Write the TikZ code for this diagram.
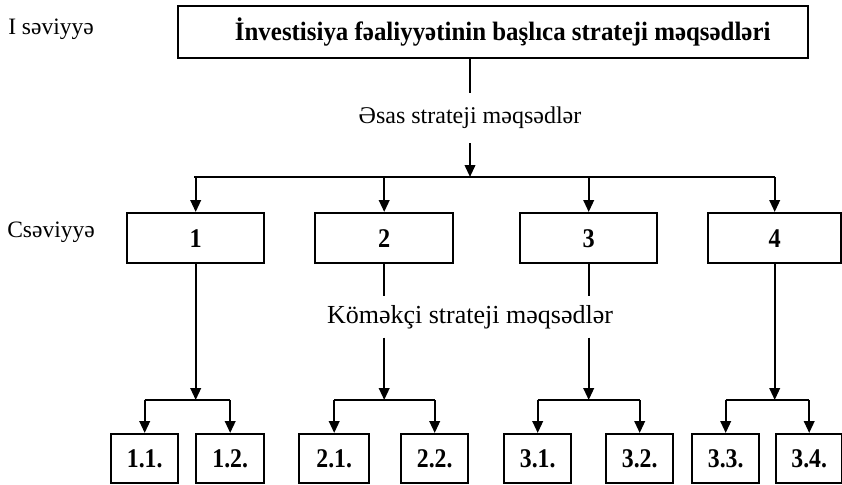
\documentclass[tikz,border=0pt]{standalone}
\usepackage{fontspec}
\setmainfont{Liberation Serif}
\usetikzlibrary{arrows.meta}
\newcommand\narrow[2]{\scalebox{#1}[1]{#2}}
\begin{document}
\begin{tikzpicture}[x=1pt,y=-1pt,
  frame/.style={draw, line width=2.4pt, inner sep=0pt, anchor=north west},
  link/.style={line width=2.2pt},
  arr/.style={line width=2.2pt, -{Triangle[length=12pt,width=10.5pt]}},
  lvltxt/.style={inner sep=0pt, font=\fontsize{23.5}{26}\selectfont},
  goaltxt/.style={inner sep=0pt},
  numtxt/.style={font=\fontsize{27}{29}\selectfont\bfseries},
  subtxt/.style={font=\fontsize{27}{29}\selectfont\bfseries}
]
\useasboundingbox (0,0) rectangle (842,484);

% level labels
\node[lvltxt] (lv1) at (51,29) {I səviyyə};
\node[lvltxt] (lv2) at (51,232) {Csəviyyə};

% top box
\node[frame, minimum width=630pt, minimum height=52pt,
      font=\fontsize{26.5}{30}\selectfont\bfseries] (top) at (177,5)
      {\hspace{19pt}\narrow{0.94}{İnvestisiya fəaliyyətinin başlıca strateji məqsədləri}};

% main goals caption and bus
\node[goaltxt, minimum height=50pt, font=\fontsize{24}{26}\selectfont]
      (main) at (470,118) {Əsas strateji məqsədlər};
\coordinate (busL) at (194,177);
\coordinate (busR) at (775,177);

% second level boxes
\node[frame, minimum width=137pt, minimum height=50pt, numtxt] (b1) at (126,212) {\narrow{0.9}{1}};
\node[frame, minimum width=138pt, minimum height=50pt, numtxt] (b2) at (314,212) {\narrow{0.9}{2}};
\node[frame, minimum width=137pt, minimum height=50pt, numtxt] (b3) at (519,212) {\narrow{0.9}{3}};
\node[frame, minimum width=133pt, minimum height=50pt, numtxt] (b4) at (707,212) {\narrow{0.9}{4}};

% auxiliary goals caption
\node[goaltxt, minimum height=41pt, font=\fontsize{26}{28}\selectfont]
      (aux) at (470,317) {Köməkçi strateji məqsədlər};

% third level boxes
\node[frame, minimum width=67pt, minimum height=49pt, subtxt] (b11) at (110,433) {\narrow{0.88}{1.1.}};
\node[frame, minimum width=68pt, minimum height=49pt, subtxt] (b12) at (195,433) {\narrow{0.88}{1.2.}};
\node[frame, minimum width=70pt, minimum height=49pt, subtxt] (b21) at (298,433) {\narrow{0.88}{2.1.}};
\node[frame, minimum width=67pt, minimum height=49pt, subtxt] (b22) at (400,433) {\narrow{0.88}{2.2.}};
\node[frame, minimum width=67pt, minimum height=49pt, subtxt] (b31) at (503,433) {\narrow{0.88}{3.1.}};
\node[frame, minimum width=67pt, minimum height=49pt, subtxt] (b32) at (605,433) {\narrow{0.88}{3.2.}};
\node[frame, minimum width=67pt, minimum height=49pt, subtxt] (b33) at (691,433) {\narrow{0.88}{3.3.}};
\node[frame, minimum width=66pt, minimum height=49pt, subtxt] (b34) at (775,433) {\narrow{0.88}{3.4.}};

% height of the third level buses
\coordinate (g) at (0,400);

% top box to second level
\draw[link] (top.south -| main) -- (main.north);
\draw[arr] (main.south) -- (main.south |- busL);
\draw[link] (busL) -- (busR);
\foreach \b in {b1,b2,b3,b4}
  \draw[arr] (\b.north |- busL) -- (\b.north);

% second level to third level
\draw[arr] (b1.south) -- (b1.south |- g);
\draw[arr] (b4.south) -- (b4.south |- g);
\draw[link] (b2.south) -- (b2.south |- aux.north);
\draw[link] (b3.south) -- (b3.south |- aux.north);
\draw[arr] (b2.south |- aux.south) -- (b2.south |- g);
\draw[arr] (b3.south |- aux.south) -- (b3.south |- g);

\foreach \l/\r in {b11/b12, b21/b22, b31/b32, b33/b34} {
  \draw[link] (\l.north |- g) -- (\r.north |- g);
  \draw[arr] (\l.north |- g) -- (\l.north);
  \draw[arr] (\r.north |- g) -- (\r.north);
}
\end{tikzpicture}
\end{document}
